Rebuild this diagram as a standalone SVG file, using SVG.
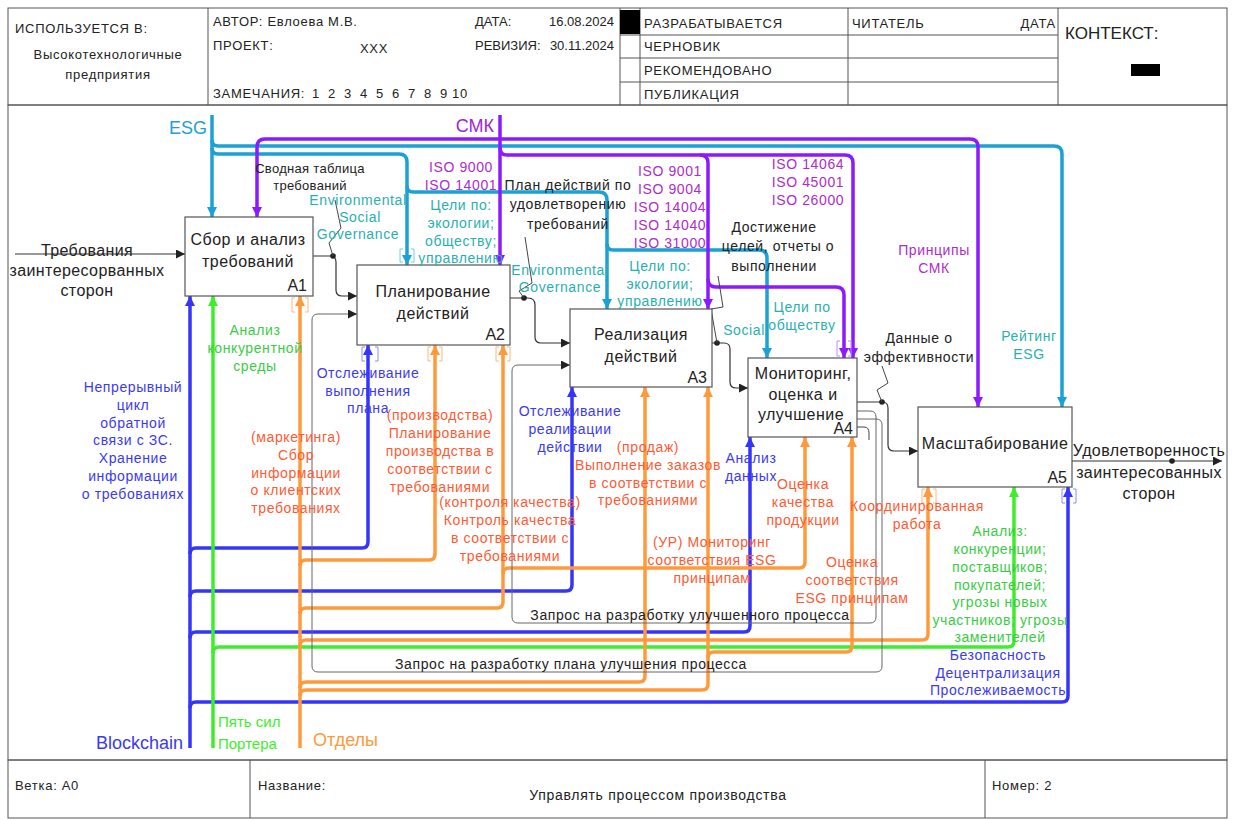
<svg xmlns="http://www.w3.org/2000/svg" width="1235" height="820" viewBox="0 0 1235 820">
<defs>
<style>
text{font-family:"Liberation Sans",Arial,sans-serif;}
.frame{fill:none;stroke:#555;stroke-width:1}
.box{fill:#fff;stroke:#555;stroke-width:1.2}
.nt{font-size:16px;letter-spacing:0.5px;fill:#222;text-anchor:middle}
.io{font-size:16px;letter-spacing:0.4px;fill:#222;text-anchor:middle}
.nid{font-size:16px;fill:#222;text-anchor:end}
.hd{font-size:13px;letter-spacing:0.7px;fill:#222}
.hn{font-size:13px;fill:#222}
.lb{font-size:14px;letter-spacing:0.6px;text-anchor:middle}
.k{fill:#222}
.tl{fill:#2AB0AE}
.pu{fill:#B02CC8}
.bl{fill:#3A3AF5}
.gr{fill:#3ACC44}
.or{fill:#FF5A33}
.cy{stroke:#1BA1D6;stroke-width:3.5;fill:none;marker-end:url(#mc)}
.pp{stroke:#8C1AFF;stroke-width:3.5;fill:none;marker-end:url(#mp)}
.bb{stroke:#3535FA;stroke-width:3.5;fill:none;marker-end:url(#mb)}
.gg{stroke:#3DEE2A;stroke-width:3.5;fill:none;marker-end:url(#mg)}
.oo{stroke:#FF9A3C;stroke-width:3.5;fill:none;marker-end:url(#mo)}
.bk{stroke:#333;stroke-width:1.2;fill:none;marker-end:url(#mk)}
.gy{stroke:#666;stroke-width:1;fill:none;marker-end:url(#mk)}
.ld{stroke:#444;stroke-width:1;fill:none}
.tn{fill:none;stroke-width:1}
</style>
<marker id="mc" viewBox="0 0 10 10" refX="10" refY="5" markerWidth="12" markerHeight="10" markerUnits="userSpaceOnUse" orient="auto"><path d="M0,0L10,5L0,10z" fill="#1BA1D6"/></marker>
<marker id="mp" viewBox="0 0 10 10" refX="10" refY="5" markerWidth="12" markerHeight="10" markerUnits="userSpaceOnUse" orient="auto"><path d="M0,0L10,5L0,10z" fill="#8C1AFF"/></marker>
<marker id="mb" viewBox="0 0 10 10" refX="10" refY="5" markerWidth="12" markerHeight="10" markerUnits="userSpaceOnUse" orient="auto"><path d="M0,0L10,5L0,10z" fill="#3535FA"/></marker>
<marker id="mg" viewBox="0 0 10 10" refX="10" refY="5" markerWidth="12" markerHeight="10" markerUnits="userSpaceOnUse" orient="auto"><path d="M0,0L10,5L0,10z" fill="#3DEE2A"/></marker>
<marker id="mo" viewBox="0 0 10 10" refX="10" refY="5" markerWidth="12" markerHeight="10" markerUnits="userSpaceOnUse" orient="auto"><path d="M0,0L10,5L0,10z" fill="#FF9A3C"/></marker>
<marker id="mk" viewBox="0 0 10 10" refX="10" refY="5" markerWidth="13" markerHeight="9" markerUnits="userSpaceOnUse" orient="auto"><path d="M0,0L10,5L0,10z" fill="#222"/></marker>
</defs>
<rect width="1235" height="820" fill="#fff"/>

<g id="header">
<rect class="frame" x="8" y="8" width="1219" height="97"/>
<path class="frame" d="M208,8V105M620,8V105M640,8V105M848,8V105M1058,8V105M620,35H1058M620,58H1058M620,82H1058"/>
<rect x="620" y="10" width="20" height="24" fill="#000"/>
<rect x="1131" y="64" width="29" height="12" fill="#000"/>
<text class="hd" x="15" y="33">ИСПОЛЬЗУЕТСЯ В:</text>
<text class="hd" x="108" y="59" text-anchor="middle">Высокотехнологичные</text>
<text class="hd" x="108" y="79" text-anchor="middle">предприятия</text>
<text class="hd" x="213" y="26">АВТОР: Евлоева М.В.</text>
<text class="hd" x="213" y="50">ПРОЕКТ:</text>
<text class="hd" x="360" y="53">XXX</text>
<text class="hd" y="98"><tspan x="213">ЗАМЕЧАНИЯ:</tspan><tspan x="312">1</tspan><tspan x="328">2</tspan><tspan x="344">3</tspan><tspan x="360">4</tspan><tspan x="376">5</tspan><tspan x="392">6</tspan><tspan x="408">7</tspan><tspan x="424">8</tspan><tspan x="440">9</tspan><tspan x="452">10</tspan></text>
<text class="hn" x="475" y="26">ДАТА:</text>
<text class="hn" x="614" y="26" text-anchor="end">16.08.2024</text>
<text class="hn" x="475" y="50">РЕВИЗИЯ:</text>
<text class="hn" x="614" y="50" text-anchor="end">30.11.2024</text>
<text class="hd" x="644" y="28">РАЗРАБАТЫВАЕТСЯ</text>
<text class="hd" x="644" y="51">ЧЕРНОВИК</text>
<text class="hd" x="644" y="75">РЕКОМЕНДОВАНО</text>
<text class="hd" x="644" y="99">ПУБЛИКАЦИЯ</text>
<text class="hd" x="852" y="28">ЧИТАТЕЛЬ</text>
<text class="hd" x="1056" y="28" text-anchor="end">ДАТА</text>
<text x="1065" y="39" font-size="17" fill="#222">КОНТЕКСТ:</text>
</g>

<g id="frame">
<rect class="frame" x="8" y="105" width="1219" height="655"/>
<rect class="frame" x="8" y="760" width="1219" height="58"/>
<path class="frame" d="M250,760V818M985,760V818"/>
<text class="hd" x="15" y="790">Ветка:  A0</text>
<text class="hd" x="258" y="790">Название:</text>
<text x="658" y="800" font-size="14" letter-spacing="0.7" fill="#222" text-anchor="middle">Управлять процессом производства</text>
<text class="hd" x="992" y="790">Номер: 2</text>
</g>

<g id="connectors">
<path class="cy" d="M212,115V217"/>
<path class="cy" d="M212,140Q212,146 218,146H1054Q1062,146 1062,154V407"/>
<path class="cy" d="M212,148Q212,154 218,154H399Q407,154 407,162V265"/>
<path class="cy" d="M407,186Q407,192 413,192H599Q607,192 607,200V309"/>
<path class="cy" d="M607,244Q607,250 613,250H759Q767,250 767,258V358"/>
<path class="pp" d="M500,115V265"/>
<path class="pp" d="M500,139H265Q257,139 257,147V217"/>
<path class="pp" d="M500,139H970Q978,139 978,147V407"/>
<path class="pp" d="M500,148Q500,155 507,155H845Q853,155 853,163V358"/>
<path class="pp" d="M700,155Q708,155 708,163V309"/>
<path class="pp" d="M708,279Q708,287 716,287H836Q844,287 844,295V358"/>
<path class="bb" d="M190,748V296"/>
<path class="bb" d="M190,554Q190,548 196,548H362Q368,548 368,542V345"/>
<path class="bb" d="M190,597Q190,591 196,591H566Q572,591 572,585V387"/>
<path class="bb" d="M190,638Q190,632 196,632H744Q750,632 750,626V437"/>
<path class="bb" d="M190,708Q190,702 196,702H1062Q1068,702 1068,696V487"/>
<path class="gg" d="M213,748V296"/>
<path class="gg" d="M213,653Q213,647 219,647H1008Q1014,647 1014,641V487"/>
<path class="oo" d="M300,748V296"/>
<path class="oo" d="M300,566Q300,560 306,560H429Q435,560 435,554V345"/>
<path class="oo" d="M300,614Q300,608 306,608H497Q503,608 503,602V345"/>
<path class="oo" d="M503,574Q503,568 509,568H799Q805,568 805,562V437"/>
<path class="oo" d="M300,646Q300,640 306,640H922Q928,640 928,634V487"/>
<path class="oo" d="M300,688Q300,682 306,682H639Q645,682 645,676V387"/>
<path class="oo" d="M300,696Q300,690 306,690H702Q708,690 708,684V387"/>
<path class="oo" d="M708,658Q708,652 714,652H846Q852,652 852,646V437"/>
<path class="bk" d="M15,254H185"/>
<path class="bk" d="M313,256H330Q336,256 336,262V290Q336,296 342,296H357"/>
<path class="bk" d="M510,298H528Q535,298 535,305V337Q535,343 541,343H570"/>
<path class="bk" d="M712,343H724Q730,343 730,349V382Q730,388 736,388H748"/>
<path class="bk" d="M857,402H882Q888,402 888,408V445Q888,451 894,451H918"/>
<path class="bk" d="M1072,461H1222"/>
<path class="gy" d="M857,411H870Q876,411 876,417V617Q876,623 870,623H518Q512,623 512,617V371Q512,365 518,365H570"/>
<path class="gy" d="M857,419H876Q882,419 882,425V666Q882,672 876,672H318Q312,672 312,666V320Q312,314 318,314H357"/>
<path class="ld" d="M857,427H864Q869,427 869,433V440"/>
<circle cx="333" cy="256" r="2.8" fill="#222"/>
<circle cx="524" cy="298" r="2.8" fill="#222"/>
<circle cx="717" cy="343" r="2.8" fill="#222"/>
<circle cx="882" cy="402" r="2.8" fill="#222"/>
<circle cx="1172" cy="461" r="2.8" fill="#222"/>
<path class="ld" d="M333,256L329,243L341,228L335,200"/>
<path class="ld" d="M524,298L519,291L532,283L525,237"/>
<path class="ld" d="M717,343L711,309L723,307L718,276"/>
<path class="ld" d="M882,402L877,390L888,383L882,366"/>
<path class="tn" stroke="#7CC6EA" d="M403,249H400V262H403M411,249H414V262H411"/>
<path class="tn" stroke="#C08CFF" d="M840,341H837V356H840M848,341H851V356H848"/>
<path class="tn" stroke="#8A8AFF" d="M365,347H362V361H365M375,347H378V361H375"/>
<path class="tn" stroke="#FFB87A" d="M295,298H292V312H295M305,298H308V312H305"/>
<path class="tn" stroke="#FFB87A" d="M431,347H428V361H431M439,347H442V361H439"/>
<path class="tn" stroke="#FFB87A" d="M499,347H496V361H499M507,347H510V361H507"/>
<path class="tn" stroke="#FFB87A" d="M925,489H922V503H925M933,489H936V503H933"/>
<path class="tn" stroke="#8A8AFF" d="M1065,489H1062V503H1065M1073,489H1076V503H1073"/>
</g>

<g id="A1">
<rect class="box" x="185" y="217" width="128" height="79"/>
<text class="nt" x="248" y="245">Сбор и анализ</text>
<text class="nt" x="248" y="267">требований</text>
<text class="nid" x="307" y="291">A1</text>
</g>
<g id="A2">
<rect class="box" x="357" y="265" width="153" height="80"/>
<text class="nt" x="433" y="297">Планирование</text>
<text class="nt" x="433" y="319">действий</text>
<text class="nid" x="505" y="340">A2</text>
</g>
<g id="A3">
<rect class="box" x="570" y="309" width="142" height="78"/>
<text class="nt" x="641" y="340">Реализация</text>
<text class="nt" x="641" y="362">действий</text>
<text class="nid" x="707" y="383">A3</text>
</g>
<g id="A4">
<rect class="box" x="748" y="358" width="109" height="79"/>
<text class="nt" x="803" y="379">Мониторинг,</text>
<text class="nt" x="803" y="400">оценка и</text>
<text class="nt" x="801" y="420">улучшение</text>
<text class="nid" x="853" y="434">A4</text>
</g>
<g id="A5">
<rect class="box" x="918" y="407" width="154" height="80"/>
<text class="nt" x="995" y="449">Масштабирование</text>
<text class="nid" x="1067" y="483">A5</text>
</g>

<g id="labels">
<text class="io" x="87" y="256">Требования</text>
<text class="io" x="87" y="276">заинтересорванных</text>
<text class="io" x="87" y="296">сторон</text>
<text class="io" x="1149" y="456">Удовлетворенность</text>
<text class="io" x="1149" y="478">заинтересованных</text>
<text class="io" x="1149" y="499">сторон</text>

<text x="207" y="134" font-size="18" fill="#1BA1D6" text-anchor="end">ESG</text>
<text x="494" y="132" font-size="18" fill="#A025E0" text-anchor="end">СМК</text>
<text x="183" y="749" font-size="18" fill="#3A3AF5" text-anchor="end">Blockchain</text>
<text x="218" y="727" font-size="15" fill="#3DEE2A">Пять сил</text>
<text x="218" y="749" font-size="15" fill="#3DEE2A">Портера</text>
<text x="313" y="746" font-size="18" fill="#FF9A3C">Отделы</text>

<text x="310" y="173" font-size="13" letter-spacing="0.3" fill="#222" text-anchor="middle">Сводная таблица</text>
<text x="310" y="190" font-size="13" letter-spacing="0.3" fill="#222" text-anchor="middle">требований</text>
<text class="lb tl" x="358" y="205">Environmental</text>
<text class="lb tl" x="360" y="222">Social</text>
<text class="lb tl" x="358" y="239">Governance</text>

<text class="lb pu" x="461" y="172">ISO 9000</text>
<text class="lb pu" x="461" y="190">ISO 14001</text>
<text class="lb tl" x="461" y="210">Цели по:</text>
<text class="lb tl" x="461" y="228">экологии;</text>
<text class="lb tl" x="461" y="246">обществу;</text>
<text class="lb tl" x="461" y="263">управлению</text>

<text class="lb k" x="568" y="190">План действий по</text>
<text class="lb k" x="568" y="209">удовлетворению</text>
<text class="lb k" x="568" y="229">требований</text>
<text class="lb tl" x="560" y="275">Environmental</text>
<text class="lb tl" x="560" y="292">Governance</text>

<text class="lb pu" x="670" y="176">ISO 9001</text>
<text class="lb pu" x="670" y="194">ISO 9004</text>
<text class="lb pu" x="670" y="212">ISO 14004</text>
<text class="lb pu" x="670" y="230">ISO 14040</text>
<text class="lb pu" x="670" y="248">ISO 31000</text>
<text class="lb tl" x="660" y="271">Цели по:</text>
<text class="lb tl" x="660" y="289">экологии;</text>
<text class="lb tl" x="660" y="306">управлению</text>

<text class="lb pu" x="808" y="169">ISO 14064</text>
<text class="lb pu" x="808" y="187">ISO 45001</text>
<text class="lb pu" x="808" y="205">ISO 26000</text>
<text class="lb k" x="774" y="232">Достижение</text>
<text class="lb k" x="778" y="251">целей, отчеты о</text>
<text class="lb k" x="774" y="271">выполнении</text>
<text class="lb tl" x="744" y="335">Social</text>
<text class="lb tl" x="802" y="312">Цели по</text>
<text class="lb tl" x="802" y="330">обществу</text>

<text class="lb pu" x="934" y="255">Принципы</text>
<text class="lb pu" x="934" y="273">СМК</text>
<text class="lb k" x="919" y="343">Данные о</text>
<text class="lb k" x="919" y="362">эффективности</text>
<text class="lb tl" x="1029" y="341">Рейтинг</text>
<text class="lb tl" x="1029" y="359">ESG</text>

<text class="lb gr" x="255" y="335">Анализ</text>
<text class="lb gr" x="255" y="353">конкурентной</text>
<text class="lb gr" x="255" y="371">среды</text>

<text class="lb bl" x="133" y="392">Непрерывный</text>
<text class="lb bl" x="133" y="410">цикл</text>
<text class="lb bl" x="133" y="428">обратной</text>
<text class="lb bl" x="133" y="445">связи с ЗС.</text>
<text class="lb bl" x="133" y="463">Хранение</text>
<text class="lb bl" x="133" y="481">информации</text>
<text class="lb bl" x="133" y="499">о требованиях</text>

<text class="lb bl" x="368" y="378">Отслеживание</text>
<text class="lb bl" x="368" y="396">выполнения</text>
<text class="lb bl" x="368" y="413">плана</text>
<text class="lb bl" x="570" y="416">Отслеживание</text>
<text class="lb bl" x="570" y="434">реализации</text>
<text class="lb bl" x="570" y="452">действии</text>
<text class="lb bl" x="751" y="463">Анализ</text>
<text class="lb bl" x="751" y="481">данных</text>
<text class="lb bl" x="998" y="660">Безопасность</text>
<text class="lb bl" x="998" y="678">Децентрализация</text>
<text class="lb bl" x="998" y="695">Прослеживаемость</text>

<text class="lb or" x="296" y="442">(маркетинга)</text>
<text class="lb or" x="296" y="460">Сбор</text>
<text class="lb or" x="296" y="478">информации</text>
<text class="lb or" x="296" y="495">о клиентских</text>
<text class="lb or" x="296" y="513">требованиях</text>

<text class="lb or" x="440" y="420">(производства)</text>
<text class="lb or" x="440" y="438">Планирование</text>
<text class="lb or" x="440" y="456">производства в</text>
<text class="lb or" x="440" y="474">соответствии с</text>
<text class="lb or" x="440" y="492">требованиями</text>

<text class="lb or" x="510" y="507">(контроля качества)</text>
<text class="lb or" x="510" y="525">Контроль качества</text>
<text class="lb or" x="510" y="543">в соответствии с</text>
<text class="lb or" x="510" y="561">требованиями</text>

<text class="lb or" x="648" y="452">(продаж)</text>
<text class="lb or" x="648" y="470">Выполнение заказов</text>
<text class="lb or" x="648" y="488">в соответствии с</text>
<text class="lb or" x="648" y="505">требованиями</text>

<text class="lb or" x="712" y="547">(УР) Мониторинг</text>
<text class="lb or" x="712" y="565">соответствия ESG</text>
<text class="lb or" x="712" y="583">принципам</text>

<text class="lb or" x="803" y="489">Оценка</text>
<text class="lb or" x="803" y="507">качества</text>
<text class="lb or" x="803" y="525">продукции</text>

<text class="lb or" x="852" y="567">Оценка</text>
<text class="lb or" x="852" y="585">соответствия</text>
<text class="lb or" x="852" y="603">ESG принципам</text>

<text class="lb or" x="917" y="511">Координированная</text>
<text class="lb or" x="917" y="529">работа</text>

<text class="lb gr" x="1000" y="536">Анализ:</text>
<text class="lb gr" x="1000" y="554">конкуренции;</text>
<text class="lb gr" x="1000" y="572">поставщиков;</text>
<text class="lb gr" x="1000" y="590">покупателей;</text>
<text class="lb gr" x="1000" y="607">угрозы новых</text>
<text class="lb gr" x="1000" y="625">участников; угрозы</text>
<text class="lb gr" x="1000" y="642">заменителей</text>

<text class="lb k" x="690" y="620">Запрос на разработку улучшенного процесса</text>
<text class="lb k" x="571" y="669">Запрос на разработку плана улучшения процесса</text>
</g>
</svg>
